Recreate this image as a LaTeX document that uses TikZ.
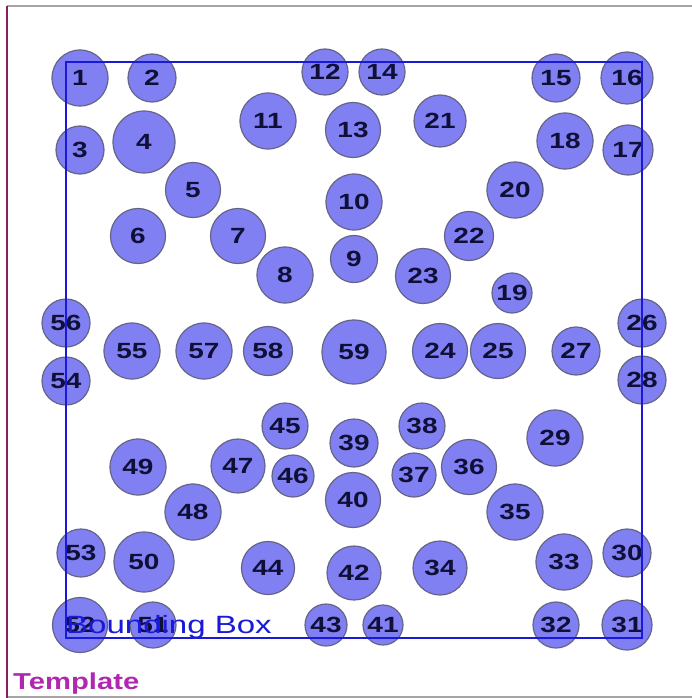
\documentclass[tikz,border=0pt]{standalone}
\usepackage{fontspec}
\setmainfont{Liberation Sans}
\newfontfamily\wfont[FakeStretch=1.27]{Liberation Sans}
\newfontfamily\bfont[FakeStretch=1.32]{Liberation Sans}
\definecolor{ballfill}{RGB}{128,128,242}
\definecolor{ballline}{RGB}{100,100,135}
\definecolor{numcol}{RGB}{15,15,55}
\definecolor{boxblue}{RGB}{25,25,215}
\definecolor{tplcol}{RGB}{175,40,175}
\definecolor{leftline}{RGB}{135,30,95}
\definecolor{frameline}{RGB}{165,165,165}
\tikzset{
  ball/.style={circle, draw=ballline, fill=ballfill, line width=1.2pt, inner sep=0pt,
    text=numcol, font=\wfont\bfseries\fontsize{22}{22}\selectfont},
  bboxline/.style={draw=boxblue, line width=2pt},
  bboxtext/.style={anchor=base west, inner sep=0pt, text=boxblue, font=\bfont\fontsize{25}{25}\selectfont},
  tpltext/.style={anchor=base west, inner sep=0pt, text=tplcol, font=\wfont\bfseries\fontsize{23}{23}\selectfont}
}
\newcommand\mkball[4]{\node[ball, minimum size=#4pt] (n#1) at (#2,#3) {#1};}
\begin{document}
\begin{tikzpicture}[x=1pt,y=-1pt]
\useasboundingbox (0,0) rectangle (692,698);
\fill[white] (0,0) rectangle (692,698);
% frame
\coordinate (ftl) at (7,6);
\coordinate (ftr) at (692,6);
\coordinate (fbl) at (7,697);
\coordinate (fbr) at (692,697);
\coordinate (flb) at (7,698);
\draw[frameline, line width=1.6pt] (ftl) -- (ftr);
\draw[frameline, line width=1.6pt] (fbl) -- (fbr);
\draw[leftline, line width=1.8pt] (ftl) -- (flb);
% balls
\mkball{1}{80}{78}{56}
\mkball{2}{152}{78}{48}
\mkball{3}{80}{150}{48}
\mkball{4}{144}{142}{62}
\mkball{5}{193}{190}{55}
\mkball{6}{138}{236}{55}
\mkball{7}{238}{236}{55}
\mkball{8}{285}{275}{56}
\mkball{9}{354}{259}{47}
\mkball{10}{354}{202}{56}
\mkball{11}{268}{121}{56}
\mkball{12}{325}{72}{46}
\mkball{13}{353}{130}{55}
\mkball{14}{382}{72}{46}
\mkball{15}{556}{78}{48}
\mkball{16}{627}{78}{52}
\mkball{17}{628}{150}{50}
\mkball{18}{565}{141}{56}
\mkball{19}{512}{293}{40}
\mkball{20}{515}{190}{56}
\mkball{21}{440}{121}{52}
\mkball{22}{469}{236}{49}
\mkball{23}{423}{276}{55}
\mkball{24}{440}{351}{55}
\mkball{25}{498}{351}{55}
\mkball{26}{642}{323}{48}
\mkball{27}{576}{351}{48}
\mkball{28}{642}{380}{48}
\mkball{29}{555}{438}{56}
\mkball{30}{627}{553}{48}
\mkball{31}{627}{625}{50}
\mkball{32}{556}{625}{46}
\mkball{33}{564}{562}{56}
\mkball{34}{440}{568}{54}
\mkball{35}{515}{512}{56}
\mkball{36}{469}{467}{55}
\mkball{37}{414}{475}{44}
\mkball{38}{422}{426}{46}
\mkball{39}{354}{443}{48}
\mkball{40}{353}{500}{55}
\mkball{41}{383}{625}{40}
\mkball{42}{354}{573}{54}
\mkball{43}{326}{625}{42}
\mkball{44}{268}{568}{53}
\mkball{45}{285}{426}{46}
\mkball{46}{293}{476}{42}
\mkball{47}{238}{466}{54}
\mkball{48}{193}{512}{56}
\mkball{49}{138}{467}{56}
\mkball{50}{144}{562}{60}
\mkball{51}{153}{625}{46}
\mkball{52}{80}{625}{55}
\mkball{53}{81}{553}{48}
\mkball{54}{66}{381}{48}
\mkball{55}{132}{351}{56}
\mkball{56}{66}{323}{48}
\mkball{57}{204}{351}{56}
\mkball{58}{268}{351}{49}
\mkball{59}{354}{352}{64}
% bounding box
\coordinate (bbtl) at (66,62);
\coordinate (bbbr) at (642,638);
\draw[bboxline] (bbtl) rectangle (bbbr);
\node[bboxtext] (bblabel) at (66,633) {Bounding Box};
\node[tpltext] (tpl) at (13,689) {Template};
\end{tikzpicture}
\end{document}
